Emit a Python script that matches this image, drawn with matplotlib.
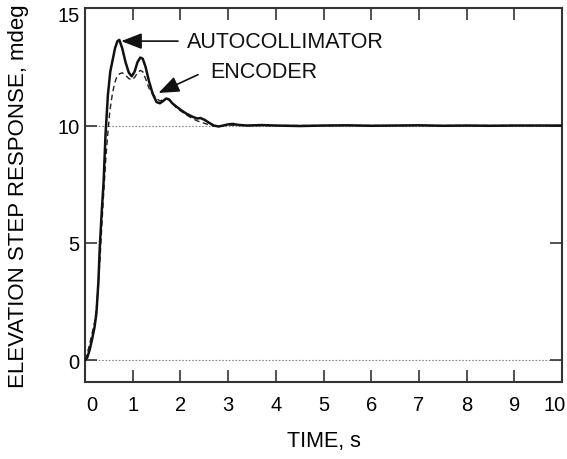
import matplotlib
matplotlib.use("Agg")
import matplotlib.pyplot as plt
from matplotlib.patches import FancyArrowPatch
from matplotlib.transforms import ScaledTranslation

# ---- data ----
auto_t = [0, 0.05, 0.10, 0.15, 0.20, 0.24, 0.28, 0.31, 0.35, 0.39,
          0.43, 0.48, 0.53, 0.58, 0.63, 0.68, 0.72, 0.78, 0.85, 0.92,
          0.98, 1.04, 1.10, 1.16, 1.21, 1.27, 1.34, 1.42, 1.50, 1.57,
          1.64, 1.70, 1.76, 1.83, 1.92, 2.02, 2.13, 2.25, 2.35, 2.42,
          2.50, 2.60, 2.70, 2.80, 2.90, 3.00, 3.10, 3.20, 3.40, 3.70,
          4.0, 4.5, 5.0, 5.5, 6.0, 6.5, 7.0, 7.5, 8.0, 8.5,
          9.0, 9.5, 10.0]
auto_v = [0, 0.12, 0.45, 0.9, 1.4, 2.0, 3.3, 4.8, 6.3, 7.6,
          9.6, 11.3, 12.3, 12.8, 13.3, 13.6, 13.65, 13.3, 12.7, 12.25,
          12.1, 12.3, 12.7, 12.9, 12.85, 12.5, 11.9, 11.35, 11.0, 10.95,
          11.05, 11.15, 11.12, 10.95, 10.8, 10.65, 10.5, 10.38, 10.3, 10.32,
          10.25, 10.12, 10.0, 9.96, 10.0, 10.05, 10.07, 10.03, 10.0, 10.02,
          10.0, 9.98, 10.0, 10.01, 9.99, 10.0, 10.01, 9.99, 10.0, 9.99,
          10.0, 10.0, 10.0]

enc_t = [0, 0.05, 0.10, 0.15, 0.20, 0.24, 0.28, 0.32, 0.36, 0.40,
         0.44, 0.48, 0.52, 0.57, 0.62, 0.67, 0.72, 0.78, 0.85, 0.92,
         0.98, 1.04, 1.10, 1.16, 1.21, 1.27, 1.34, 1.42, 1.50, 1.57,
         1.64, 1.70, 1.76, 1.83, 1.92, 2.02, 2.13, 2.25, 2.35, 2.42,
         2.50, 2.60, 2.70, 2.80, 2.90, 3.0, 3.2, 3.5, 4.0, 5.0,
         6.0, 7.0, 8.0, 9.0, 10.0]
enc_v = [0, 0.3, 0.7, 1.15, 1.6, 2.2, 3.2, 4.5, 6.0, 7.4,
         8.7, 9.7, 10.6, 11.3, 11.8, 12.1, 12.2, 12.25, 12.15, 12.0,
         11.95, 12.05, 12.25, 12.35, 12.3, 12.0, 11.6, 11.35, 11.15, 11.05,
         11.1, 11.15, 11.1, 10.95, 10.75, 10.6, 10.45, 10.3, 10.2, 10.15,
         10.1, 10.03, 9.98, 9.97, 10.0, 10.02, 10.01, 10.0, 10.0, 10.0,
         10.0, 10.0, 10.0, 10.0, 10.0]

ref_levels = [0, 10]
x_ticks = list(range(0, 11))
y_ticks = [0, 5, 10, 15]
labels = ["AUTOCOLLIMATOR", "ENCODER"]

# ---- figure ----
plt.rcParams['font.family'] = ['Liberation Sans', 'DejaVu Sans']
FS_TICK = 14.5
FS_TXT = 15.5
fig = plt.figure(figsize=(5.67, 4.60), dpi=100)
ax = fig.add_axes([0.1499, 0.1667, 0.9912 - 0.1499, 0.9798 - 0.1667])

for lv in ref_levels:
    ax.axhline(lv, color='#888888', lw=0.8, ls=(0, (1.5, 1.5)), zorder=1)

ax.plot(enc_t, enc_v, color='#222222', lw=1.0, ls=(0, (4, 2.5)), zorder=2)
ax.plot(auto_t, auto_v, color='#111111', lw=1.8, zorder=3)

ax.set_xlim(0, 10)
ax.set_ylim(-0.95, 15)
ax.set_xticks(x_ticks)
ax.set_yticks(y_ticks)
ax.tick_params(axis='both', direction='in', length=8.5, width=1.2,
               color='#333333', labelsize=FS_TICK, top=True, right=True)
ax.tick_params(axis='x', pad=9)
ax.tick_params(axis='y', pad=4)
for s in ax.spines.values():
    s.set_linewidth(1.5)
    s.set_color('#333333')

ax.set_xlabel("TIME, s", fontsize=FS_TXT, labelpad=12)
ax.set_ylabel("ELEVATION STEP RESPONSE, mdeg", fontsize=16, labelpad=20)

# nudge edge tick labels inward like the reference
def nudge(lbl, dx_px, dy_px):
    lbl.set_transform(lbl.get_transform() +
                      ScaledTranslation(dx_px / 100, dy_px / 100, fig.dpi_scale_trans))

xt = ax.xaxis.get_major_ticks()
nudge(xt[0].label1, 7, 0)
nudge(xt[-1].label1, -7, 0)
yt = ax.yaxis.get_major_ticks()
nudge(yt[-1].label1, 0, -5)

# annotations
ax.text(2.14, 13.57, labels[0], fontsize=FS_TXT, va='center', ha='left', color='#111111')
ax.add_patch(FancyArrowPatch((1.95, 13.6), (0.76, 13.6),
                             arrowstyle='-|>,head_length=0.9,head_width=0.35',
                             mutation_scale=14, color='#111111', lw=1.2,
                             shrinkA=0, shrinkB=0, zorder=4))
ax.text(2.62, 12.3, labels[1], fontsize=FS_TXT, va='center', ha='left', color='#111111')
ax.add_patch(FancyArrowPatch((2.37, 12.17), (1.54, 11.39),
                             arrowstyle='-|>,head_length=0.9,head_width=0.35',
                             mutation_scale=14, color='#111111', lw=1.2,
                             shrinkA=0, shrinkB=0, zorder=4))

fig.savefig("out.png", dpi=100)
